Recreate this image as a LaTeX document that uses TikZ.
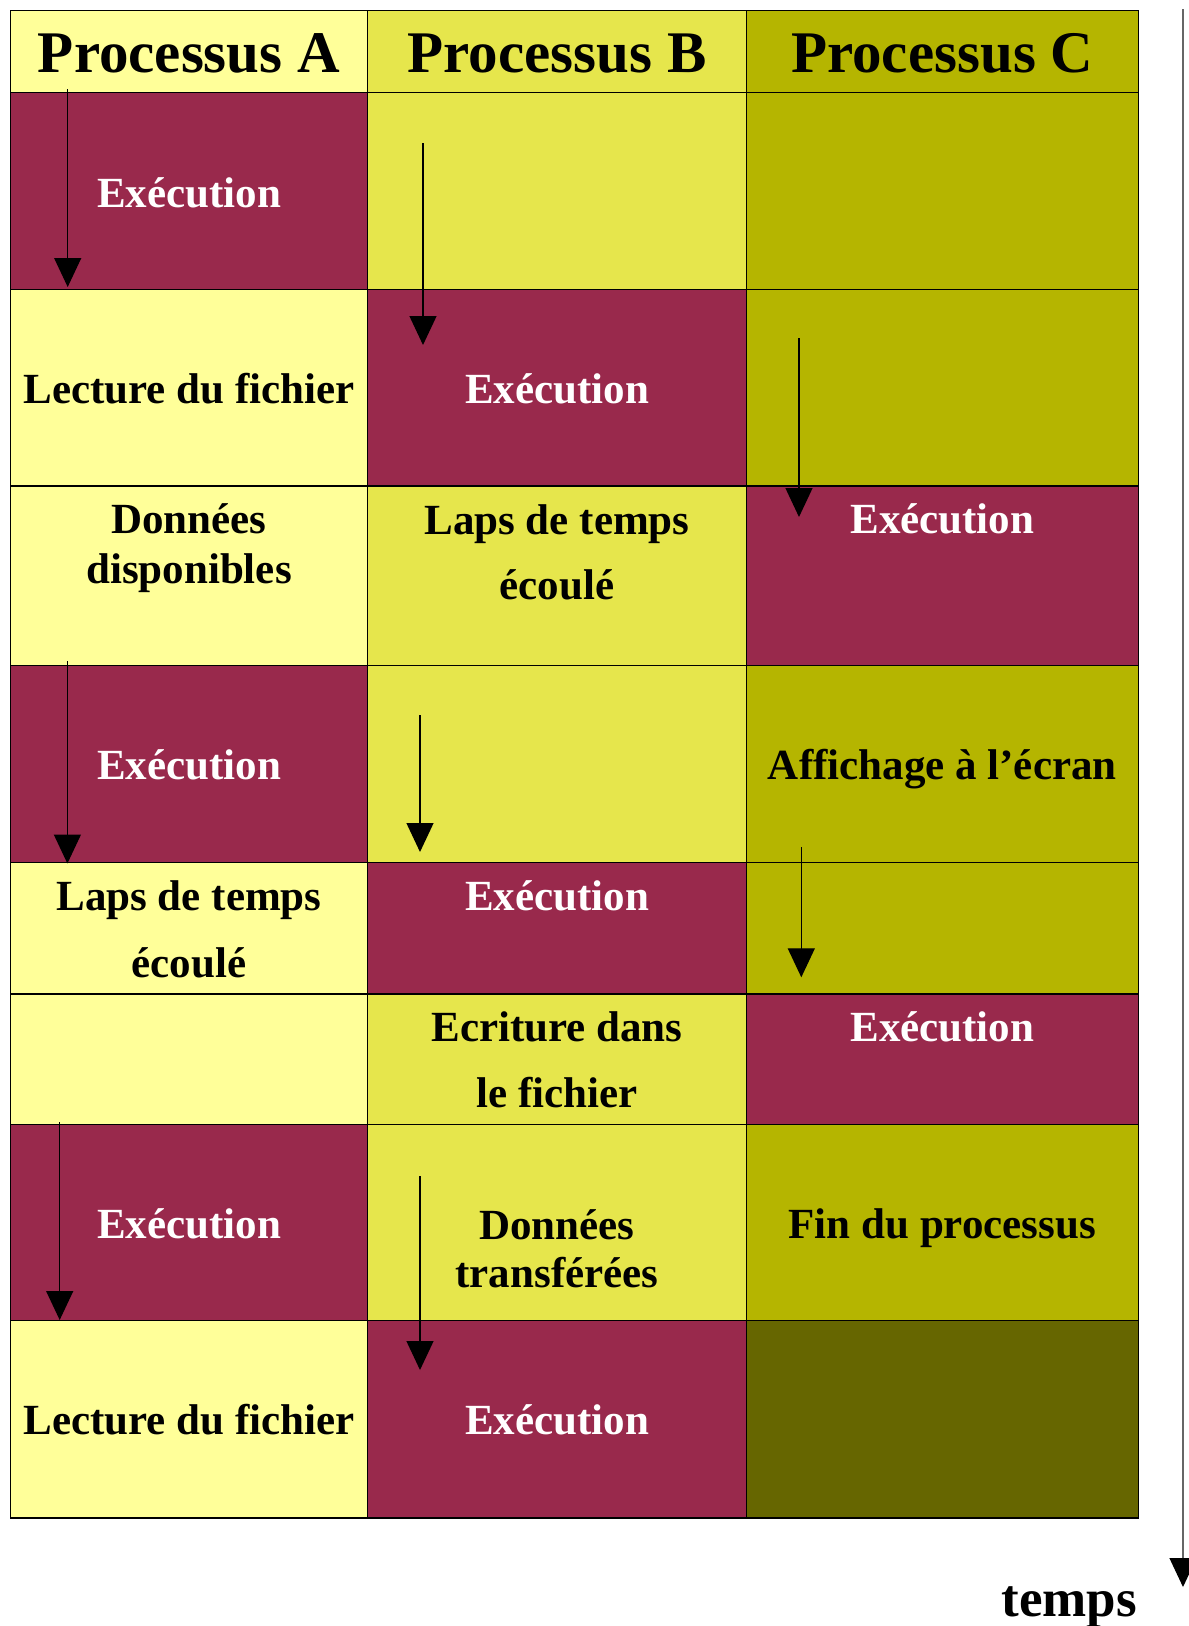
\documentclass[tikz,border=0pt]{standalone}
\usepackage{fontspec}
\setmainfont{Liberation Serif}
\usetikzlibrary{arrows.meta}
\definecolor{colA}{HTML}{FFFF99}
\definecolor{colB}{HTML}{E6E64C}
\definecolor{colC}{HTML}{B5B500}
\definecolor{exec}{HTML}{99294C}
\definecolor{dark}{HTML}{666600}
\tikzset{
  cell/.style={draw=black, line width=1.5pt, inner sep=0pt, outer sep=0pt},
  hdr/.style={anchor=base, inner sep=0pt, font=\fontsize{59}{64}\selectfont\bfseries},
  txt/.style={anchor=base, inner sep=0pt, font=\fontsize{43}{48}\selectfont\bfseries},
  wtxt/.style={txt, text=white},
  flow/.style={line width=1.3pt, draw=black, -{Triangle[width=27pt,length=29pt]}},
}
\newcommand{\mkcell}[6]{% name, color, x0, y0, x1, y1
  \path[cell, fill=#2] (#3,#4) rectangle (#5,#6);
  \coordinate (#1) at ({(#3+#5)/2},{(#4+#6)/2});
}
\begin{document}
\begin{tikzpicture}[x=1pt, y=-1pt]
\useasboundingbox (0,0) rectangle (1189,1626);
% header
\mkcell{hA}{colA}{10.3}{10.3}{367.7}{92.3}
\mkcell{hB}{colB}{367.7}{10.3}{746.3}{92.3}
\mkcell{hC}{colC}{746.3}{10.3}{1138.3}{92.3}
% row 1
\mkcell{c1A}{exec}{10.3}{92.3}{367.7}{289.3}
\mkcell{c1B}{colB}{367.7}{92.3}{746.3}{289.3}
\mkcell{c1C}{colC}{746.3}{92.3}{1138.3}{289.3}
% row 2
\mkcell{c2A}{colA}{10.3}{289.3}{367.7}{486}
\mkcell{c2B}{exec}{367.7}{289.3}{746.3}{486}
\mkcell{c2C}{colC}{746.3}{289.3}{1138.3}{486}
% row 3
\mkcell{c3A}{colA}{10.3}{486}{367.7}{665.5}
\mkcell{c3B}{colB}{367.7}{486}{746.3}{665.5}
\mkcell{c3C}{exec}{746.3}{486}{1138.3}{665.5}
% row 4
\mkcell{c4A}{exec}{10.3}{665.5}{367.7}{862.5}
\mkcell{c4B}{colB}{367.7}{665.5}{746.3}{862.5}
\mkcell{c4C}{colC}{746.3}{665.5}{1138.3}{862.5}
% row 5
\mkcell{c5A}{colA}{10.3}{862.5}{367.7}{994}
\mkcell{c5B}{exec}{367.7}{862.5}{746.3}{994}
\mkcell{c5C}{colC}{746.3}{862.5}{1138.3}{994}
% row 6
\mkcell{c6A}{colA}{10.3}{994}{367.7}{1124.7}
\mkcell{c6B}{colB}{367.7}{994}{746.3}{1124.7}
\mkcell{c6C}{exec}{746.3}{994}{1138.3}{1124.7}
% row 7
\mkcell{c7A}{exec}{10.3}{1124.7}{367.7}{1320.7}
\mkcell{c7B}{colB}{367.7}{1124.7}{746.3}{1320.7}
\mkcell{c7C}{colC}{746.3}{1124.7}{1138.3}{1320.7}
% row 8
\mkcell{c8A}{colA}{10.3}{1320.7}{367.7}{1517.8}
\mkcell{c8B}{exec}{367.7}{1320.7}{746.3}{1517.8}
\mkcell{c8C}{dark}{746.3}{1320.7}{1138.3}{1517.8}

% headers
\node[hdr] (tA) at (189,72.7) {Processus A};
\node[hdr] (tB) at (557,72.7) {Processus B};
\node[hdr] (tC) at (942.3,72.7) {Processus C};

% texts
\node[wtxt] (t1A) at (189,207) {Exécution};
\node[txt] (t2A) at (189,403) {Lecture du fichier};
\node[wtxt] (t2B) at (557,403) {Exécution};
\node[txt] (t3A1) at (189,533) {Données};
\node[txt] (t3A2) at (189,583) {disponibles};
\node[txt] (t3B1) at (557,534) {Laps de temps};
\node[txt] (t3B2) at (557,599) {écoulé};
\node[wtxt] (t3C) at (942.3,533) {Exécution};
\node[wtxt] (t4A) at (189,779) {Exécution};
\node[txt] (t4C) at (942.3,779) {Affichage à l’écran};
\node[txt] (t5A1) at (189,910) {Laps de temps};
\node[txt] (t5A2) at (189,977) {écoulé};
\node[wtxt] (t5B) at (557,910) {Exécution};
\node[txt] (t6B1) at (557,1041) {Ecriture dans};
\node[txt] (t6B2) at (557,1107) {le fichier};
\node[wtxt] (t6C) at (942.3,1041) {Exécution};
\node[wtxt] (t7A) at (189,1238) {Exécution};
\node[txt] (t7B1) at (557,1239) {Données};
\node[txt] (t7B2) at (557,1287) {transférées};
\node[txt] (t7C) at (942.3,1238) {Fin du processus};
\node[txt] (t8A) at (189,1434) {Lecture du fichier};
\node[wtxt] (t8B) at (557,1434) {Exécution};

% flow arrows
\coordinate (a1s) at (67.7,89);   \coordinate (a1e) at (67.7,287);
\coordinate (b1s) at (423,143);   \coordinate (b1e) at (423,345);
\coordinate (c1s) at (799,338);   \coordinate (c1e) at (799,517);
\coordinate (a2s) at (67.4,661);  \coordinate (a2e) at (67.4,863.5);
\coordinate (b2s) at (420,715);   \coordinate (b2e) at (420,852);
\coordinate (c2s) at (801.3,847); \coordinate (c2e) at (801.3,977.3);
\coordinate (a3s) at (59.7,1122); \coordinate (a3e) at (59.7,1320);
\coordinate (b3s) at (420,1176);  \coordinate (b3e) at (420,1370);
\draw[flow] (a1s) -- (a1e);
\draw[flow] (b1s) -- (b1e);
\draw[flow] (c1s) -- (c1e);
\draw[flow] (a2s) -- (a2e);
\draw[flow] (b2s) -- (b2e);
\draw[flow] (c2s) -- (c2e);
\draw[flow] (a3s) -- (a3e);
\draw[flow] (b3s) -- (b3e);

% time axis
\coordinate (ts) at (1183,9);
\coordinate (te) at (1183,1587);
\draw[line width=1.3pt, draw=black!60, -{Triangle[width=27pt,length=29pt,color=black]}] (ts) -- (te);
\node[anchor=base east, inner sep=0pt, font=\fontsize{53}{58}\selectfont\bfseries] (temps) at (1137,1616.7) {temps};
\end{tikzpicture}
\end{document}
